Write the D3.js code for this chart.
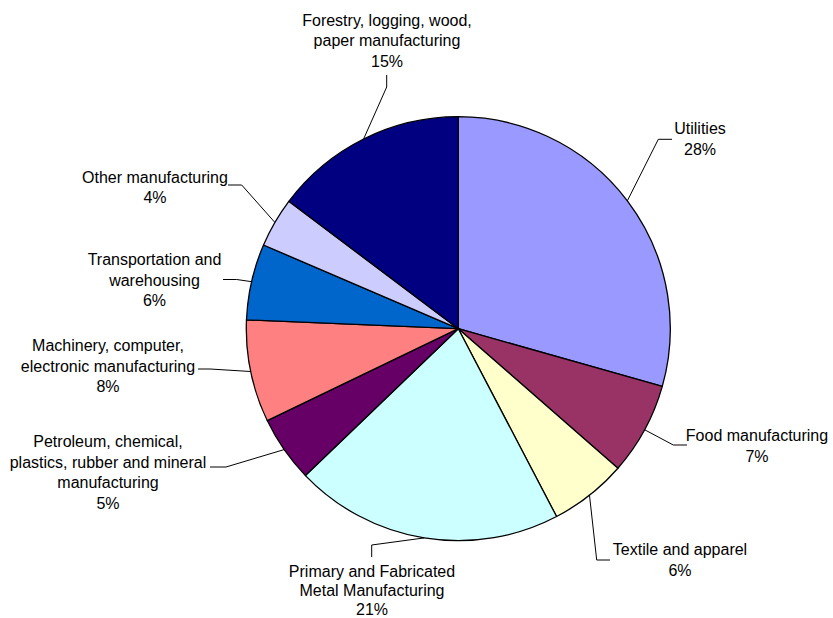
<!DOCTYPE html>
<html>
<head>
<meta charset="utf-8">
<script src="https://cdn.jsdelivr.net/npm/d3@7"></script>
<style>
  html, body { margin: 0; padding: 0; background: #ffffff; }
  svg { display: block; }
  text { font-family: "Liberation Sans", Arial, sans-serif; font-size: 16px; fill: #000; }
</style>
</head>
<body>
<svg id="chart" width="833" height="618"></svg>
<script>
// ---- data ----
const categories = [
  "Utilities",
  "Food manufacturing",
  "Textile and apparel",
  "Primary and Fabricated\nMetal Manufacturing",
  "Petroleum, chemical,\nplastics, rubber and mineral\nmanufacturing",
  "Machinery, computer,\nelectronic manufacturing",
  "Transportation and\nwarehousing",
  "Other manufacturing",
  "Forestry, logging, wood,\npaper manufacturing"
];
const shares = [29.4, 7.05, 5.9, 20.5, 5.05, 7.8, 5.8, 3.8, 14.75];
const pctLabels = ["28%", "7%", "6%", "21%", "5%", "8%", "6%", "4%", "15%"];
const colors = ["#9999FF", "#993366", "#FFFFCC", "#CCFFFF", "#660066",
                "#FF8080", "#0066CC", "#CCCCFF", "#000080"];

// ---- layout (label placement, not data) ----
const cx = 458.3, cy = 328.7, R = 212;
const lineH = 20.7;
const labelLayout = [
  { tx: 700,   ty: 134,   lh: lineH, elbow: [658.3, 139.3], end: [672, 139.3] },
  { tx: 757,   ty: 441,   lh: lineH, elbow: [673.3, 445],   end: [687, 445] },
  { tx: 680,   ty: 555,   lh: lineH, elbow: [596.7, 560],   end: [610, 560] },
  { tx: 372,   ty: 576.5, lh: 19.2,  elbow: [371.7, 545],   end: [371.7, 557] },
  { tx: 108,   ty: 447,   lh: lineH, elbow: [226, 467],     end: [210, 467] },
  { tx: 108,   ty: 351,   lh: lineH, elbow: [210, 369],     end: [198, 369] },
  { tx: 154.5, ty: 265,   lh: lineH, elbow: [236.7, 279.5], end: [223, 279.5] },
  { tx: 155,   ty: 182.7, lh: lineH, elbow: [241.7, 185],   end: [228, 185] },
  { tx: 387,   ty: 25.7,  lh: lineH, elbow: [386.7, 87],    end: [386.7, 75] }
];

const svg = d3.select("#chart");
const g = svg.append("g").attr("transform", `translate(${cx},${cy})`);

const pie = d3.pie().sort(null).value(d => d.v).startAngle(0).endAngle(2 * Math.PI);
const data = shares.map((v, i) => ({ v, i }));
const arcs = pie(data);
const arc = d3.arc().innerRadius(0).outerRadius(R);
const color = d3.scaleOrdinal().domain(d3.range(categories.length)).range(colors);

g.selectAll("path.slice")
  .data(arcs)
  .join("path")
  .attr("class", "slice")
  .attr("d", arc)
  .attr("fill", d => color(d.data.i))
  .attr("stroke", "#000")
  .attr("stroke-width", 1.3)
  .attr("stroke-linejoin", "round");

// leader lines
const line = d3.line();
svg.selectAll("path.leader")
  .data(arcs)
  .join("path")
  .attr("class", "leader")
  .attr("d", d => {
    const a = (d.startAngle + d.endAngle) / 2;
    const p0 = [cx + R * Math.sin(a), cy - R * Math.cos(a)];
    const L = labelLayout[d.data.i];
    return line([p0, L.elbow, L.end]);
  })
  .attr("fill", "none")
  .attr("stroke", "#000")
  .attr("stroke-width", 1);

// labels
const labels = svg.selectAll("text.lbl")
  .data(arcs)
  .join("text")
  .attr("class", "lbl")
  .attr("text-anchor", "middle");

labels.each(function(d) {
  const L = labelLayout[d.data.i];
  const lines = categories[d.data.i].split("\n").concat([pctLabels[d.data.i]]);
  d3.select(this).selectAll("tspan")
    .data(lines)
    .join("tspan")
    .attr("x", L.tx)
    .attr("y", (t, k) => L.ty + k * L.lh)
    .text(t => t);
});
</script>
</body>
</html>
